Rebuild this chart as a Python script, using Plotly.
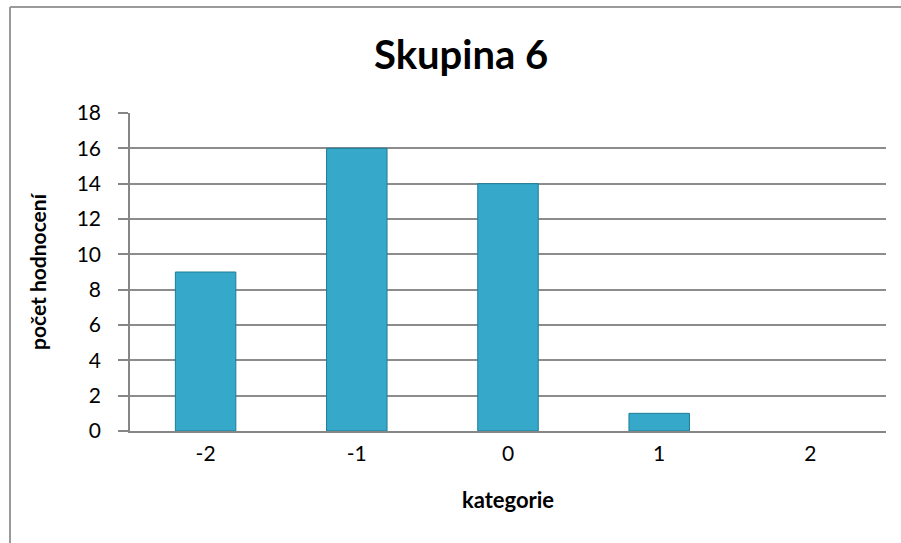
import plotly.graph_objects as go

# Data
kategorie = ["-2", "-1", "0", "1", "2"]
pocet = [9, 16, 14, 1, 0]
y_ticks = list(range(0, 19, 2))

FONT = "Lato"
W, H = 901, 543
ML, MR, MT, MB = 130, 15, 113, 112
PW, PH = W - ML - MR, H - MT - MB

fig = go.Figure()
fig.add_trace(go.Bar(
    x=kategorie,
    y=pocet,
    width=0.4,
    marker=dict(
        color="#36A9CA",
        line=dict(color="#1E7C96", width=[1 if v > 0 else 0 for v in pocet]),
    ),
    hoverinfo="x+y",
))

def px_x(px):
    return (px - ML) / PW

def px_y(py):
    return 1 - (py - MT) / PH

FRAME = dict(color="#9A9A9A", width=2)

fig.update_layout(
    width=W, height=H,
    margin=dict(l=ML, r=MR, t=MT, b=MB),
    paper_bgcolor="white",
    plot_bgcolor="white",
    showlegend=False,
    font=dict(family=FONT, size=21, color="black"),
    xaxis=dict(
        type="category",
        showgrid=False,
        showline=True, linecolor="#868686", linewidth=2,
        ticks="", tickfont=dict(size=21),
        ticklabelstandoff=3,
        title=dict(text="<b>kategorie</b>", font=dict(size=22), standoff=28),
    ),
    yaxis=dict(
        range=[0, 18],
        tickvals=y_ticks,
        showgrid=True, gridcolor="#8C8C8C", gridwidth=1.5,
        showline=True, linecolor="#868686", linewidth=1.5,
        ticks="outside", ticklen=10, tickcolor="#868686", tickwidth=1.5,
        tickfont=dict(size=21),
        ticklabelstandoff=13,
        zeroline=False,
        title=dict(text="<b>počet hodnocení</b>", font=dict(size=21), standoff=24),
    ),
    annotations=[dict(
        text="<b>Skupina 6</b>", xref="paper", yref="paper",
        x=px_x(461), y=px_y(54), xanchor="center", yanchor="middle",
        showarrow=False, font=dict(size=40, family=FONT),
    )],
    shapes=[
        dict(type="line", xref="paper", yref="paper",
             x0=px_x(10), y0=px_y(7), x1=px_x(W + 20), y1=px_y(7),
             line=FRAME, layer="below"),
        dict(type="line", xref="paper", yref="paper",
             x0=px_x(10), y0=px_y(7), x1=px_x(10), y1=px_y(H + 20),
             line=FRAME, layer="below"),
    ],
)

fig.write_html(
    "out.html",
    post_script="document.body.style.margin='0';document.body.style.overflow='hidden';",
)
